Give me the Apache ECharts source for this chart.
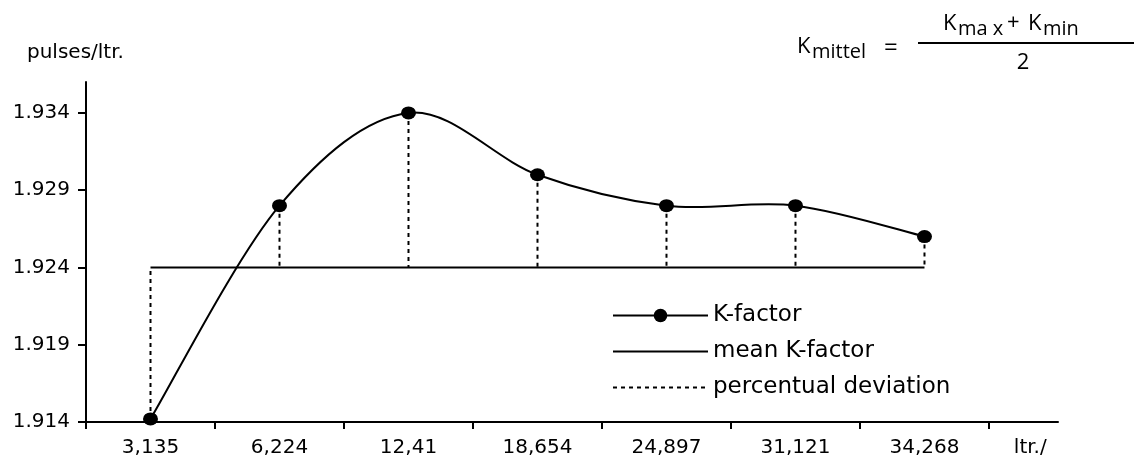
<!DOCTYPE html>
<html>
<head>
<meta charset="utf-8">
<script src="https://cdn.jsdelivr.net/npm/echarts@6/dist/echarts.min.js"></script>
<style>
  html, body { margin: 0; padding: 0; background: #fff; }
  #chart { width: 1139px; height: 459px; }
</style>
</head>
<body>
<div id="chart"></div>
<script>
// ---- data ----
var categories = ['3,135', '6,224', '12,41', '18,654', '24,897', '31,121', '34,268'];
var kFactor = [1.9142, 1.928, 1.934, 1.930, 1.928, 1.928, 1.926];
var kMax = 1.934;
var kMin = 1.914;
var meanK = (kMax + kMin) / 2;
var yTicks = [1.914, 1.919, 1.924, 1.929, 1.934];
var unitLabel = 'ltr./';
var yUnit = 'pulses/ltr.';

// ---- derived ----
var xPos = categories.map(function (c, i) { return i + 0.5; });
var xTickVals = categories.map(function (c, i) { return i; }).concat([categories.length]);
var unitPos = categories.length + 0.32;
var kData = kFactor.map(function (v, i) { return [xPos[i], v]; });
var meanData = [[xPos[0], meanK], [xPos[xPos.length - 1], meanK]];
var devData = [];
kFactor.forEach(function (v, i) {
  devData.push([xPos[i], v]);
  devData.push([xPos[i], meanK]);
  devData.push([xPos[i], '-']);
});

var FONT = 'DejaVu Sans';
var FFONT = 'Open Sans';

function curveSegment(params, api) {
  var i = params.dataIndex;
  var n = kData.length;
  if (i >= n - 1) return null;
  function p(j) {
    j = Math.max(0, Math.min(n - 1, j));
    return api.coord(kData[j]);
  }
  var p0 = p(i - 1), p1 = p(i), p2 = p(i + 1), p3 = p(i + 2);
  var t = 1 / 6;
  return {
    type: 'bezierCurve',
    shape: {
      x1: p1[0], y1: p1[1], x2: p2[0], y2: p2[1],
      cpx1: p1[0] + (p2[0] - p0[0]) * t, cpy1: p1[1] + (p2[1] - p0[1]) * t,
      cpx2: p2[0] - (p3[0] - p1[0]) * t, cpy2: p2[1] - (p3[1] - p1[1]) * t
    },
    style: { stroke: '#000', lineWidth: 2, fill: 'none' },
    silent: true
  };
}

function txt(text, x, y, size, align) {
  return {
    type: 'text', x: x, y: y,
    style: { text: text, fontFamily: FFONT, fontSize: size, fill: '#000', align: align || 'left', verticalAlign: 'middle' }
  };
}

var chart = echarts.init(document.getElementById('chart'));
chart.setOption({
  animation: false,
  backgroundColor: '#fff',
  title: {
    text: yUnit,
    left: 27,
    top: 43,
    padding: 0,
    textStyle: { fontFamily: FONT, fontSize: 20, fontWeight: 'normal', color: '#000' }
  },
  grid: { left: 86, right: 81, top: 82, bottom: 37 },
  legend: {
    orient: 'vertical',
    left: 612,
    top: 304,
    padding: 0,
    itemWidth: 95,
    itemHeight: 17,
    itemGap: 13,
    textStyle: { fontFamily: FONT, fontSize: 23, color: '#000' },
    data: [
      { name: 'K-factor', lineStyle: { opacity: 1, color: '#000', width: 2 } },
      { name: 'mean K-factor', itemStyle: { opacity: 0 } },
      { name: 'percentual deviation', itemStyle: { opacity: 0 } }
    ]
  },
  xAxis: {
    type: 'value',
    min: 0,
    max: 7.535,
    splitLine: { show: false },
    axisLine: { show: true, lineStyle: { color: '#000', width: 2 } },
    axisTick: { show: true, length: 7, lineStyle: { color: '#000', width: 2 }, customValues: xTickVals },
    axisLabel: {
      customValues: xPos.concat([unitPos]),
      margin: 16,
      fontFamily: FONT,
      fontSize: 20,
      color: '#000',
      formatter: function (v) {
        if (v > categories.length) return unitLabel;
        return categories[Math.round(v - 0.5)];
      }
    }
  },
  yAxis: {
    type: 'value',
    min: 1.914,
    max: 1.936,
    splitLine: { show: false },
    axisLine: { show: true, lineStyle: { color: '#000', width: 2 } },
    axisTick: { show: true, length: 8, lineStyle: { color: '#000', width: 2 }, customValues: yTicks },
    axisLabel: {
      customValues: yTicks,
      margin: 16,
      fontFamily: FONT,
      fontSize: 20,
      color: '#000',
      formatter: function (v) { return v.toFixed(3); }
    }
  },
  series: [
    {
      name: 'percentual deviation',
      type: 'line',
      data: devData,
      symbol: 'none',
      connectNulls: false,
      lineStyle: { color: '#000', width: 2, type: [4, 4] },
      itemStyle: { color: '#000' },
      z: 1
    },
    {
      name: 'mean K-factor',
      type: 'line',
      data: meanData,
      symbol: 'none',
      lineStyle: { color: '#000', width: 2 },
      itemStyle: { color: '#000' },
      z: 2
    },
    {
      name: 'K-factor curve',
      type: 'custom',
      coordinateSystem: 'cartesian2d',
      data: kData,
      encode: { x: 0, y: 1 },
      renderItem: curveSegment,
      silent: true,
      z: 3
    },
    {
      name: 'K-factor',
      type: 'line',
      data: kData,
      symbol: 'circle',
      symbolSize: [15, 13],
      lineStyle: { color: '#000', width: 2, opacity: 0 },
      itemStyle: { color: '#000' },
      z: 4
    }
  ],
  graphic: [
    txt('K', 797, 47, 22),
    txt('mittel', 812, 52, 20),
    txt('=', 884, 48, 24),
    { type: 'line', shape: { x1: 918, y1: 43, x2: 1134, y2: 43 }, style: { stroke: '#000', lineWidth: 2 } },
    txt('K', 943, 24, 22),
    txt('ma x', 958, 29, 20),
    txt('+', 1007, 23, 22),
    txt('K', 1028, 24, 22),
    txt('min', 1043, 29, 20),
    txt('2', 1023, 63, 22, 'center')
  ]
});
</script>
</body>
</html>
